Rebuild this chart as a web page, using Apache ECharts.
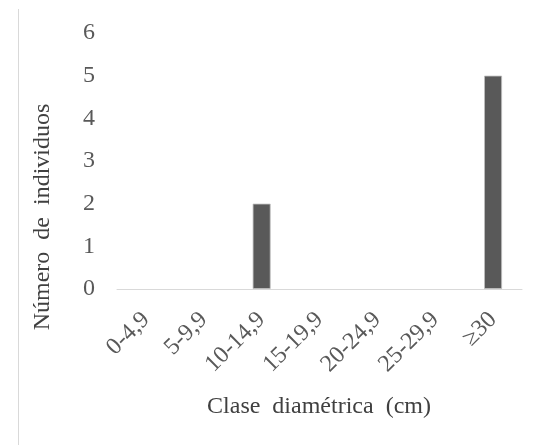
<!DOCTYPE html>
<html><head><meta charset="utf-8">
<script src="https://cdn.jsdelivr.net/npm/echarts@6/dist/echarts.min.js"></script>
<style>html,body{margin:0;padding:0;background:#fff}#c{width:542px;height:445px}</style>
</head><body><div id="c"></div>
<script>
const categories = ['0-4,9','5-9,9','10-14,9','15-19,9','20-24,9','25-29,9','≥30'];
const values = [0,0,2,0,0,0,5];
const yTicks = [0,1,2,3,4,5,6];
const xTitle = 'Clase  diamétrica  (cm)';
const yTitle = 'Número  de  individuos';

const chart = echarts.init(document.getElementById('c'));
const font = '"Liberation Serif", "DejaVu Serif", serif';
chart.setOption({
  animation:false,
  grid:{left:117,right:20,top:33,bottom:156,containLabel:false},
  graphic:[
    {type:'line',shape:{x1:18.5,y1:9,x2:18.5,y2:445},style:{stroke:'#d9d9d9',lineWidth:1}},
    {type:'text',x:319,y:407,style:{text:xTitle,fill:'#404040',font:'24px '+font,align:'center',verticalAlign:'middle'}},
    {type:'text',x:43,y:217,rotation:Math.PI/2,style:{text:yTitle,fill:'#404040',font:'24px '+font,align:'center',verticalAlign:'middle'}}
  ],
  xAxis:{type:'category',data:categories,
    axisLine:{show:true,lineStyle:{color:'#d9d9d9',width:1}},
    axisTick:{show:false},
    axisLabel:{rotate:45,margin:27,color:'#595959',fontFamily:font,fontSize:24,interval:0}
  },
  yAxis:{type:'value',min:yTicks[0],max:yTicks[yTicks.length-1],interval:1,
    splitLine:{show:false},axisLine:{show:false},axisTick:{show:false},
    axisLabel:{color:'#595959',fontFamily:font,fontSize:24,margin:22}
  },
  series:[{type:'bar',barWidth:'31%',
    data:values.map(v=>({value:v,itemStyle:{borderWidth:v===0?0:0.8}})),
    itemStyle:{color:'#595959',borderColor:'#bfbfbf'}}]
});
</script></body></html>
